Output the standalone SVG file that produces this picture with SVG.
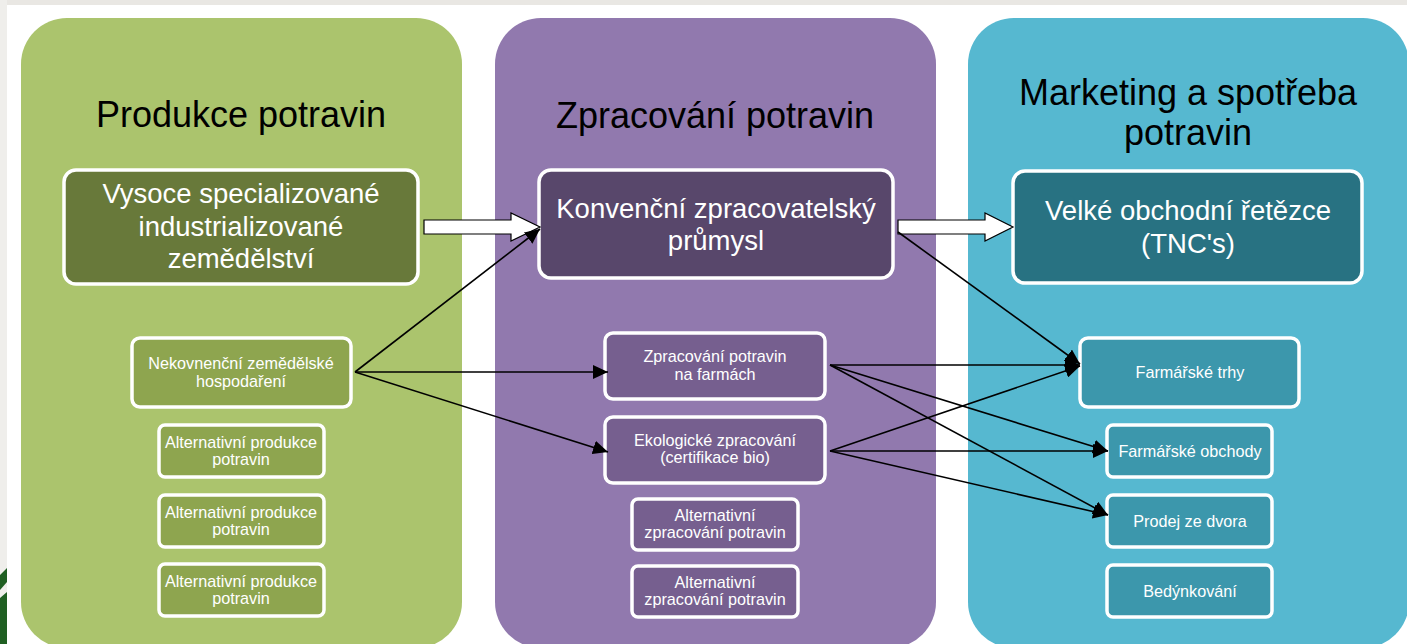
<svg xmlns="http://www.w3.org/2000/svg" width="1407" height="644" viewBox="0 0 1407 644">
  <style>
    .panel-title { font-family: "Liberation Sans", Arial, sans-serif; font-size: 36px; fill: #000; text-anchor: middle; }
    .big { font-family: "Liberation Sans", Arial, sans-serif; font-size: 27.5px; fill: #fff; text-anchor: middle; }
    .small { font-family: "Liberation Sans", Arial, sans-serif; font-size: 16.2px; fill: #fff; text-anchor: middle; }
    .box { stroke: #fff; stroke-width: 3.5; }
    .g-big { fill: #68793a; }
    .g-small { fill: #8ea54f; }
    .p-big { fill: #58476b; }
    .p-small { fill: #765f8f; }
    .b-big { fill: #287282; }
    .b-small { fill: #3c97ac; }
    .thin { stroke: #000; stroke-width: 1.6; fill: none; marker-end: url(#ah); }
    .fat { fill: #fff; stroke: #000; stroke-width: 1.2; }
  </style>
  <defs>
    <marker id="ah" markerUnits="userSpaceOnUse" markerWidth="16" markerHeight="14" refX="15" refY="7" orient="auto">
      <path d="M0,0 L15,7 L0,14 z" fill="#000"/>
    </marker>
  </defs>

  <!-- background -->
  <rect x="0" y="0" width="1407" height="644" fill="#ffffff"/>
  <rect x="0" y="0" width="1407" height="5" fill="#e9e7e3"/>
  <rect x="0" y="0" width="7" height="644" fill="#efeeeb"/>
  <path d="M0,575 L7,568 L7,582 L0,590 z M0,598 L7,592 L7,644 L0,644 z" fill="#1f5f22"/>

  <!-- panels -->
  <g id="panel-produkce">
    <rect x="21" y="18" width="441" height="630" rx="46" fill="#abc46d"/>
    <text class="panel-title" x="241" y="127">Produkce potravin</text>
  </g>
  <g id="panel-zpracovani">
    <rect x="495" y="18" width="441" height="630" rx="46" fill="#9179ae"/>
    <text class="panel-title" x="715" y="128">Zpracování potravin</text>
  </g>
  <g id="panel-marketing">
    <rect x="968" y="18" width="441" height="630" rx="46" fill="#56b8d0"/>
    <text class="panel-title" x="1188" y="105">Marketing a spotřeba</text>
    <text class="panel-title" x="1188" y="145">potravin</text>
  </g>

  <!-- column 1 nodes -->
  <g id="n-vysoce">
    <rect class="box g-big" x="64" y="170" width="354" height="114" rx="12"/>
    <text class="big" x="241" y="203">Vysoce specializované</text>
    <text class="big" x="241" y="236">industrializované</text>
    <text class="big" x="241" y="268">zemědělství</text>
  </g>
  <g id="n-nekonv">
    <rect class="box g-small" x="132" y="338" width="219" height="69" rx="8"/>
    <text class="small" x="241" y="369">Nekovnenční zemědělské</text>
    <text class="small" x="241" y="387">hospodaření</text>
  </g>
  <g id="n-alt-prod-1">
    <rect class="box g-small" x="159" y="425" width="165" height="52" rx="6"/>
    <text class="small" x="241" y="448">Alternativní produkce</text>
    <text class="small" x="241" y="465">potravin</text>
  </g>
  <g id="n-alt-prod-2">
    <rect class="box g-small" x="159" y="495" width="165" height="52" rx="6"/>
    <text class="small" x="241" y="518">Alternativní produkce</text>
    <text class="small" x="241" y="535">potravin</text>
  </g>
  <g id="n-alt-prod-3">
    <rect class="box g-small" x="159" y="564" width="165" height="52" rx="6"/>
    <text class="small" x="241" y="587">Alternativní produkce</text>
    <text class="small" x="241" y="604">potravin</text>
  </g>

  <!-- column 2 nodes -->
  <g id="n-konv">
    <rect class="box p-big" x="539" y="170" width="354" height="108" rx="12"/>
    <text class="big" x="716" y="218">Konvenční zpracovatelský</text>
    <text class="big" x="716" y="250">průmysl</text>
  </g>
  <g id="n-farmach">
    <rect class="box p-small" x="605" y="333" width="220" height="66" rx="8"/>
    <text class="small" x="715" y="362">Zpracování potravin</text>
    <text class="small" x="715" y="380">na farmách</text>
  </g>
  <g id="n-eko">
    <rect class="box p-small" x="605" y="417" width="220" height="66" rx="8"/>
    <text class="small" x="715" y="446">Ekologické zpracování</text>
    <text class="small" x="715" y="463">(certifikace bio)</text>
  </g>
  <g id="n-alt-zpr-1">
    <rect class="box p-small" x="632" y="499" width="166" height="51" rx="6"/>
    <text class="small" x="715" y="521">Alternativní</text>
    <text class="small" x="715" y="538">zpracování potravin</text>
  </g>
  <g id="n-alt-zpr-2">
    <rect class="box p-small" x="632" y="566" width="166" height="51" rx="6"/>
    <text class="small" x="715" y="588">Alternativní</text>
    <text class="small" x="715" y="605">zpracování potravin</text>
  </g>

  <!-- column 3 nodes -->
  <g id="n-retezce">
    <rect class="box b-big" x="1013" y="171" width="349" height="112" rx="12"/>
    <text class="big" x="1188" y="220">Velké obchodní řetězce</text>
    <text class="big" x="1188" y="253">(TNC's)</text>
  </g>
  <g id="n-trhy">
    <rect class="box b-small" x="1080" y="338" width="219" height="69" rx="8"/>
    <text class="small" x="1190" y="378">Farmářské trhy</text>
  </g>
  <g id="n-obchody">
    <rect class="box b-small" x="1107" y="425" width="165" height="52" rx="6"/>
    <text class="small" x="1190" y="457">Farmářské obchody</text>
  </g>
  <g id="n-dvora">
    <rect class="box b-small" x="1107" y="495" width="165" height="52" rx="6"/>
    <text class="small" x="1190" y="527">Prodej ze dvora</text>
  </g>
  <g id="n-bedynky">
    <rect class="box b-small" x="1107" y="565" width="165" height="52" rx="6"/>
    <text class="small" x="1190" y="597">Bedýnkování</text>
  </g>

  <!-- connectors -->
  <g id="connectors">
    <path class="fat" d="M424,220 L511,220 L511,213 L540,227 L511,241 L511,234 L424,234 z"/>
    <path class="fat" d="M898,220 L985,220 L985,213 L1013,227 L985,241 L985,234 L898,234 z"/>
    <line class="thin" x1="355" y1="372" x2="540" y2="229"/>
    <line class="thin" x1="355" y1="372" x2="608" y2="372"/>
    <line class="thin" x1="355" y1="372" x2="608" y2="452"/>
    <line class="thin" x1="898" y1="232" x2="1080" y2="364"/>
    <line class="thin" x1="830" y1="365" x2="1080" y2="365"/>
    <line class="thin" x1="830" y1="365" x2="1108" y2="451"/>
    <line class="thin" x1="830" y1="365" x2="1108" y2="515"/>
    <line class="thin" x1="830" y1="451" x2="1080" y2="366"/>
    <line class="thin" x1="830" y1="451" x2="1108" y2="451"/>
    <line class="thin" x1="830" y1="451" x2="1108" y2="515"/>
  </g>
</svg>
